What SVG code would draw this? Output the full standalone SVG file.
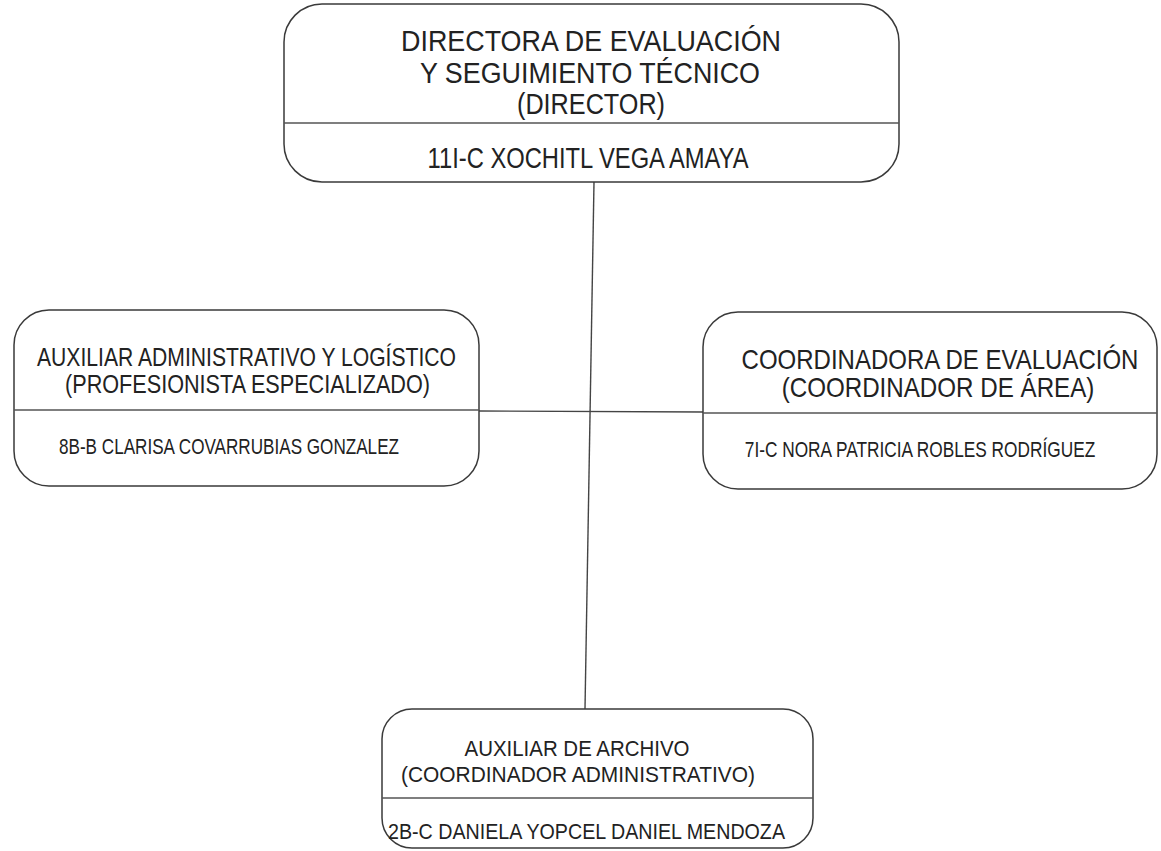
<svg xmlns="http://www.w3.org/2000/svg" width="1161" height="851" viewBox="0 0 1161 851">
<style>
.box{fill:none;stroke:#3a3a3a;stroke-width:1.5}
.div{stroke:#555;stroke-width:1.4}
.con{stroke:#444;stroke-width:1.4;fill:none}
text{font-family:"Liberation Sans",Arial,sans-serif;fill:#222;text-anchor:middle}
.t1{font-size:29px}
.t2{font-size:25px}
.t3{font-size:27px}
.tn{font-size:22px}
.t4{font-size:22px}
</style>
<rect width="1161" height="851" fill="#ffffff"/>
<g id="connectors">
<line class="con" x1="594" y1="182" x2="585" y2="709"/>
<line class="con" x1="479" y1="411" x2="703" y2="412"/>
</g>
<g id="director">
<rect class="box" x="284" y="4" width="615" height="178" rx="38" ry="38"/>
<line class="div" x1="284" y1="123" x2="899" y2="123"/>
<text class="t1" x="591" y="51" textLength="380" lengthAdjust="spacingAndGlyphs">DIRECTORA DE EVALUACIÓN</text>
<text class="t1" x="590" y="83" textLength="340" lengthAdjust="spacingAndGlyphs">Y SEGUIMIENTO TÉCNICO</text>
<text class="t1" x="591" y="114" textLength="148" lengthAdjust="spacingAndGlyphs">(DIRECTOR)</text>
<text class="t1" x="588" y="168" textLength="321" lengthAdjust="spacingAndGlyphs">11I-C XOCHITL VEGA AMAYA</text>
</g>
<g id="auxiliar-admin">
<rect class="box" x="14" y="310" width="465" height="176" rx="35" ry="35"/>
<line class="div" x1="14" y1="410" x2="479" y2="410"/>
<text class="t2" x="246.5" y="366" textLength="419" lengthAdjust="spacingAndGlyphs">AUXILIAR ADMINISTRATIVO Y LOGÍSTICO</text>
<text class="t2" x="247.5" y="393" textLength="365" lengthAdjust="spacingAndGlyphs">(PROFESIONISTA ESPECIALIZADO)</text>
<text class="tn" x="229" y="454" textLength="340" lengthAdjust="spacingAndGlyphs">8B-B CLARISA COVARRUBIAS GONZALEZ</text>
</g>
<g id="coordinadora">
<rect class="box" x="703" y="312" width="454" height="177" rx="35" ry="35"/>
<line class="div" x1="703" y1="413" x2="1157" y2="413"/>
<text class="t3" transform="translate(940,369) scale(0.889,1)" x="0" y="0">COORDINADORA DE EVALUACIÓN</text>
<text class="t3" transform="translate(938,397) scale(0.895,1)" x="0" y="0">(COORDINADOR DE ÁREA)</text>
<text class="tn" transform="translate(920,457) scale(0.785,1)" x="0" y="0">7I-C NORA PATRICIA ROBLES RODRÍGUEZ</text>
</g>
<g id="auxiliar-archivo">
<rect class="box" x="382" y="709" width="431" height="139" rx="30" ry="30"/>
<line class="div" x1="382" y1="798" x2="813" y2="798"/>
<text class="t4" x="577" y="756" textLength="225" lengthAdjust="spacingAndGlyphs">AUXILIAR DE ARCHIVO</text>
<text class="t4" x="578" y="782" textLength="354" lengthAdjust="spacingAndGlyphs">(COORDINADOR ADMINISTRATIVO)</text>
<text class="t4" x="586.5" y="839" textLength="397" lengthAdjust="spacingAndGlyphs">2B-C DANIELA YOPCEL DANIEL MENDOZA</text>
</g>
</svg>
